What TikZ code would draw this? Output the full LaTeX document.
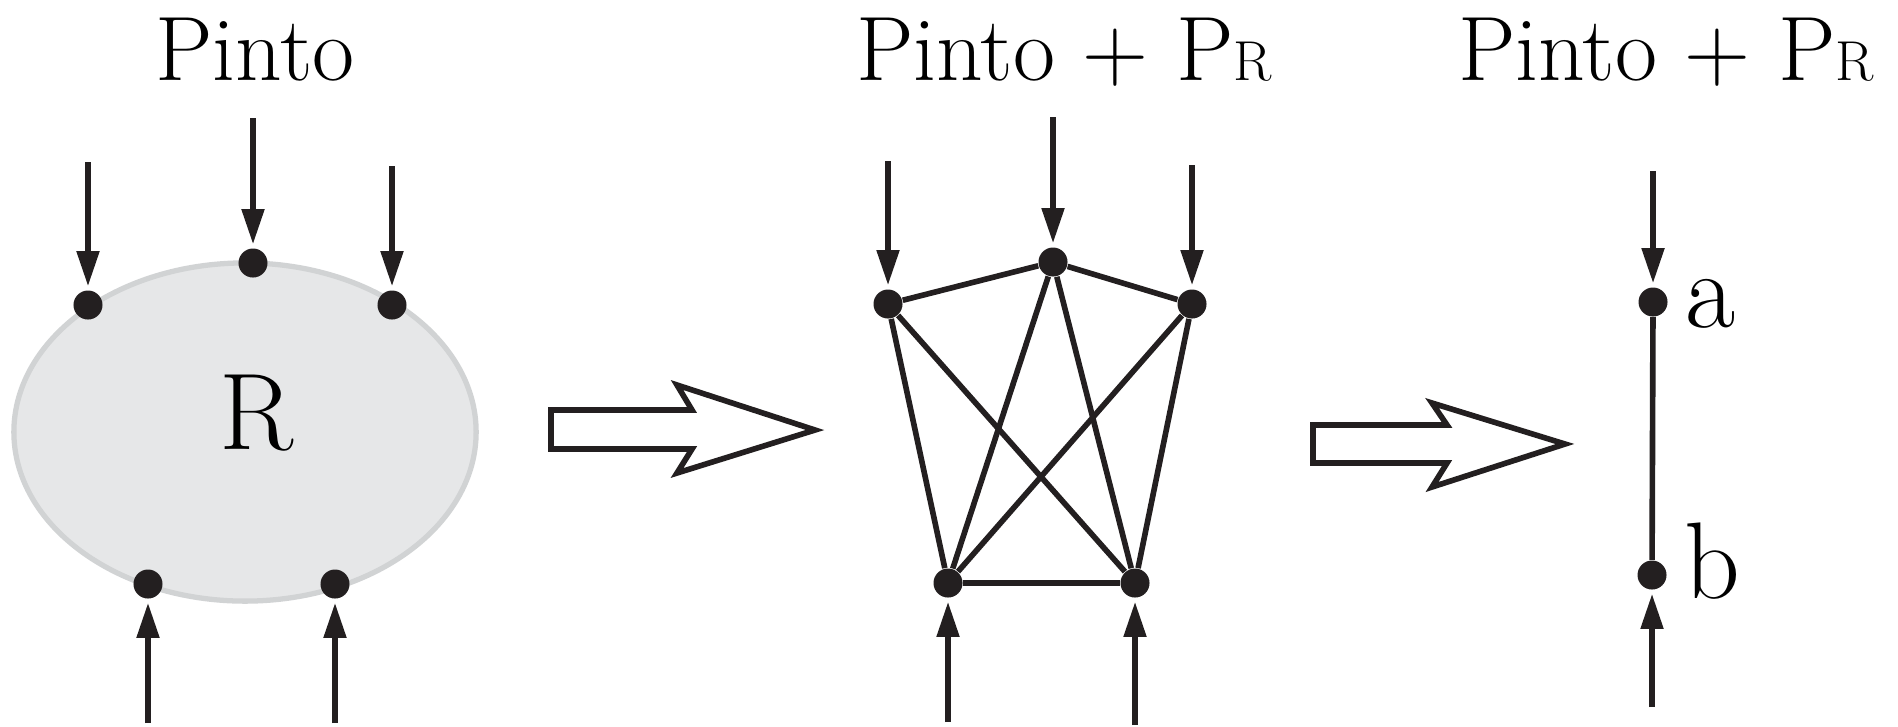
\documentclass[tikz,border=0pt]{standalone}
\usetikzlibrary{arrows.meta}

\definecolor{ink}{HTML}{231F20}
\definecolor{blobfill}{HTML}{E6E7E8}
\definecolor{blobline}{HTML}{D1D3D4}

\tikzset{
  dot/.style={circle, fill=ink, inner sep=0pt, minimum size=0.29cm},
  feed/.style={draw=ink, line width=1.6pt, shorten >=1pt,
               -{Triangle[length=10pt,width=6.2pt]}},
  link/.style={draw=ink, line width=1.6pt},
  hollow/.style={draw=ink, line width=1.6pt, fill=white, line join=miter},
  title/.style={font=\fontsize{26}{32}\selectfont, anchor=base, inner sep=0pt},
  tag/.style={font=\fontsize{31}{38}\selectfont, inner sep=0pt},
}
\newcommand{\subR}{{\fontsize{16}{20}\selectfont R}}

\begin{document}
\begin{tikzpicture}[x=0.01cm, y=-0.01cm]
  \useasboundingbox (0,0) rectangle (1898,726);
  % titles
  \node[title] (t1) at (255,80) {Pinto};
  \node[title] (t2) at (1064,80) {Pinto + P\subR};
  \node[title] (t3) at (1666,80) {Pinto + P\subR};

  % region R with its boundary points
  \draw[fill=blobfill, draw=blobline, line width=1.5pt]
    (245,432) ellipse [x radius=2.31cm, y radius=1.69cm];
  \node[tag, anchor=base] (rlabel) at (257,449) {R};
  \foreach \n/\x/\y/\s in {la/88/305/162, lb/253/263/118, lc/392/305/166,
                           ld/148/584/723, le/335/584/723} {
    \node[dot] (\n) at (\x,\y) {};
    \coordinate (\n-in) at (\x,\s);
    \draw[feed] (\n-in) -- (\n);
  }

  \draw[hollow] (551,410) -- (692,410) -- (677,385) -- (815,430)
    -- (677,473) -- (692,449) -- (551,449) -- cycle;

  % complete pattern on the boundary points
  \foreach \n/\x/\y/\s in {ma/888/304/161, mb/1053/262/117, mc/1192/304/165,
                           md/948/583/722, me/1135/583/725} {
    \node[dot] (\n) at (\x,\y) {};
    \coordinate (\n-in) at (\x,\s);
    \draw[feed] (\n-in) -- (\n);
  }
  \foreach \u/\v in {ma/mb, mb/mc, ma/md, ma/me, mb/md, mb/me,
                     mc/md, mc/me, md/me}
    \draw[link] (\u) -- (\v);

  \draw[hollow] (1313,425) -- (1447,425) -- (1432,403) -- (1565,444)
    -- (1432,487) -- (1447,463) -- (1313,463) -- cycle;

  % reduced to a single edge
  \foreach \n/\x/\y/\s in {a/1653/302/171, b/1652/575/707} {
    \node[dot] (\n) at (\x,\y) {};
    \coordinate (\n-in) at (\x,\s);
    \draw[feed] (\n-in) -- (\n);
  }
  \draw[link] (a) -- (b);
  \node[tag, anchor=base west] (alabel) at (1685,327) {a};
  \node[tag, anchor=base west] (blabel) at (1684,598) {b};
\end{tikzpicture}
\end{document}
